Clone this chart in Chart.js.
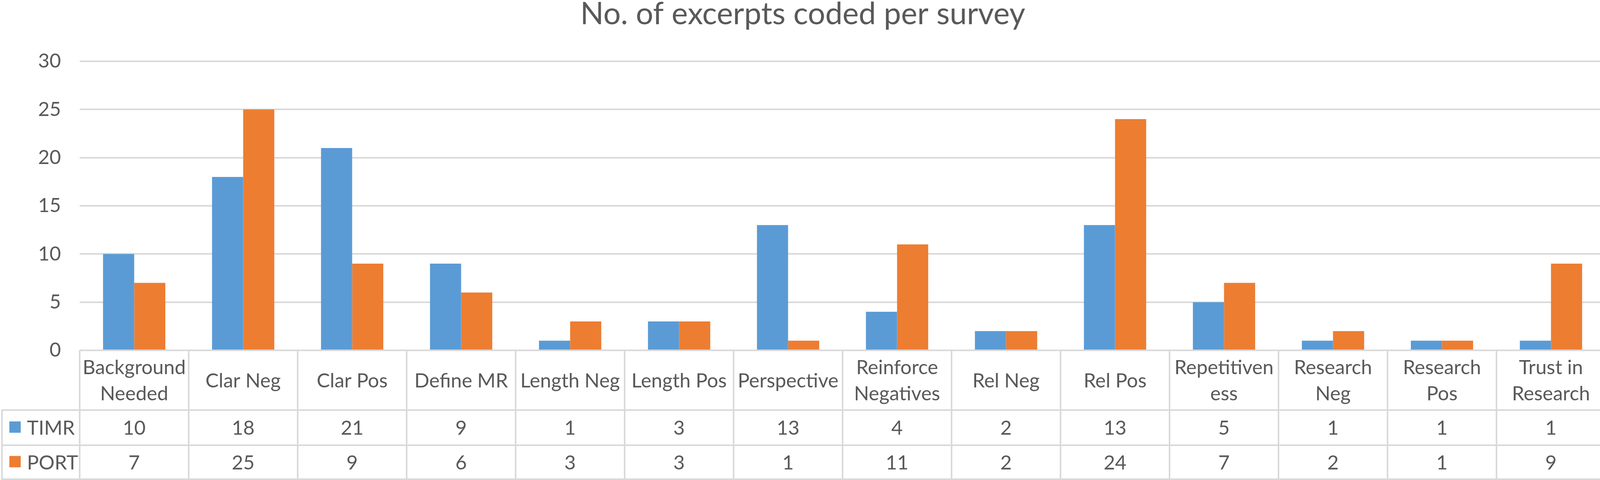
<!DOCTYPE html>
<html><head><meta charset="utf-8">
<script src="https://cdn.jsdelivr.net/npm/chart.js@4.4.0/dist/chart.umd.min.js"></script>
<style>html,body{margin:0;padding:0;background:#fff;}canvas{display:block;}</style>
</head><body>
<div style="width:4114px;height:1229px;"><canvas id="c" width="4114" height="1229"></canvas></div>
<script>
// ---- data ----
const categories = [["Background","Needed"],["Clar Neg"],["Clar Pos"],["Define MR"],["Length Neg"],["Length Pos"],["Perspective"],["Reinforce","Negatives"],["Rel Neg"],["Rel Pos"],["Repetitiven","ess"],["Research","Neg"],["Research","Pos"],["Trust in","Research"]];
const seriesNames = ["TIMR","PORT"];
const timrValues = [10,18,21,9,1,3,13,4,2,13,5,1,1,1];
const portValues = [7,25,9,6,3,3,1,11,2,24,7,2,1,9];
const yTickValues = [0,5,10,15,20,25,30];
const titleText = "No. of excerpts coded per survey";

// ---- style ----
const FAMILY = "Lato, 'Noto Sans', sans-serif";
const TEXT = '#595959', GRID = '#D9D9D9', LW = 4;
const COLORS = ['#5B9BD5', '#ED7D31'];
const mctx = document.createElement('canvas').getContext('2d');
function fitSize(text, target) { mctx.font = '100px ' + FAMILY; return 100 * target / mctx.measureText(text).width; }
const labelSize = fitSize("Background", 264);
const titleSize = fitSize(titleText, 1139);
// title vertical placement: top of capitals at ~5px
mctx.font = titleSize + 'px ' + FAMILY; mctx.textBaseline = 'middle';
const capAboveMiddle = mctx.measureText('N').actualBoundingBoxAscent;
const titleMiddleY = 5 + capAboveMiddle;
const titleLH = Math.min(1.2, 2 * titleMiddleY / titleSize);
const titlePadTop = titleMiddleY - titleLH * titleSize / 2;
const PLOT_TOP = 157, X_AXIS_H = 332, Y_AXIS_W = 204;
const titlePadBottom = PLOT_TOP - titleLH * titleSize - titlePadTop;
mctx.textBaseline = 'alphabetic';
mctx.font = labelSize + 'px ' + FAMILY;
const labelCap = mctx.measureText('H').actualBoundingBoxAscent;

const HEADER_H = 153, ROW1_H = 90, ROW2_H = 87, LINE_GAP = 67;

const tablePlugin = {
  id: 'dataTable',
  afterDraw(chart) {
    const ctx = chart.ctx, x = chart.scales.x, area = chart.chartArea;
    const n = categories.length, colW = (x.right - x.left) / n;
    const y0 = area.bottom, y1 = y0 + HEADER_H, y2 = y1 + ROW1_H, y3 = y2 + ROW2_H;
    const leftX = 5;
    ctx.save();
    ctx.strokeStyle = GRID; ctx.lineWidth = LW;
    ctx.beginPath();
    [y1, y2, y3].forEach(y => { ctx.moveTo(leftX - LW/2, y); ctx.lineTo(x.right, y); });
    ctx.moveTo(leftX, y1); ctx.lineTo(leftX, y3 + LW/2);
    for (let i = 0; i <= n; i++) {
      const xx = x.left + i * colW;
      ctx.moveTo(xx, y0); ctx.lineTo(xx, y3 + LW/2);
    }
    ctx.stroke();
    ctx.fillStyle = TEXT;
    ctx.font = labelSize + 'px ' + FAMILY;
    ctx.textAlign = 'center'; ctx.textBaseline = 'alphabetic';
    const hc = (y0 + y1) / 2;
    categories.forEach((lines, i) => {
      const cx = x.getPixelForValue(i);
      lines.forEach((t, k) => {
        const cy = hc + (k - (lines.length - 1) / 2) * LINE_GAP;
        ctx.fillText(t, cx, cy + labelCap / 2);
      });
    });
    const rows = [[timrValues, (y1 + y2) / 2], [portValues, (y2 + y3) / 2]];
    rows.forEach(([vals, cy], r) => {
      vals.forEach((v, i) => ctx.fillText(String(v), x.getPixelForValue(i), cy + labelCap / 2));
      ctx.fillStyle = COLORS[r];
      ctx.fillRect(24, cy - 16, 29, 29);
      ctx.fillStyle = TEXT;
      ctx.textAlign = 'left';
      ctx.fillText(seriesNames[r], 69, cy + labelCap / 2);
      ctx.textAlign = 'center';
    });
    ctx.restore();
  }
};

new Chart(document.getElementById('c'), {
  type: 'bar',
  data: {
    labels: categories,
    datasets: [
      { label: seriesNames[0], data: timrValues, backgroundColor: COLORS[0], borderWidth: 0, categoryPercentage: 2/3.5, barPercentage: 1 },
      { label: seriesNames[1], data: portValues, backgroundColor: COLORS[1], borderWidth: 0, categoryPercentage: 2/3.5, barPercentage: 1 }
    ]
  },
  options: {
    responsive: false, animation: false, devicePixelRatio: 1,
    layout: { padding: { left: 0, right: 4, top: 0, bottom: 0 } },
    plugins: {
      legend: { display: false }, tooltip: { enabled: false },
      title: { display: true, text: titleText, color: TEXT,
        font: { family: FAMILY, size: titleSize, weight: 'normal', lineHeight: titleLH },
        padding: { top: titlePadTop, bottom: titlePadBottom } }
    },
    scales: {
      x: { ticks: { display: false }, grid: { display: false }, border: { display: false },
           afterFit(s) { s.height = X_AXIS_H; } },
      y: { min: yTickValues[0], max: yTickValues[yTickValues.length - 1],
           afterBuildTicks(s) { s.ticks = yTickValues.map(v => ({ value: v })); },
           ticks: { color: TEXT, font: { family: FAMILY, size: labelSize }, padding: 48 },
           grid: { color: GRID, lineWidth: LW, drawTicks: false }, border: { display: false },
           afterFit(s) { s.width = Y_AXIS_W; } }
    }
  },
  plugins: [tablePlugin]
});
</script>
</body></html>
